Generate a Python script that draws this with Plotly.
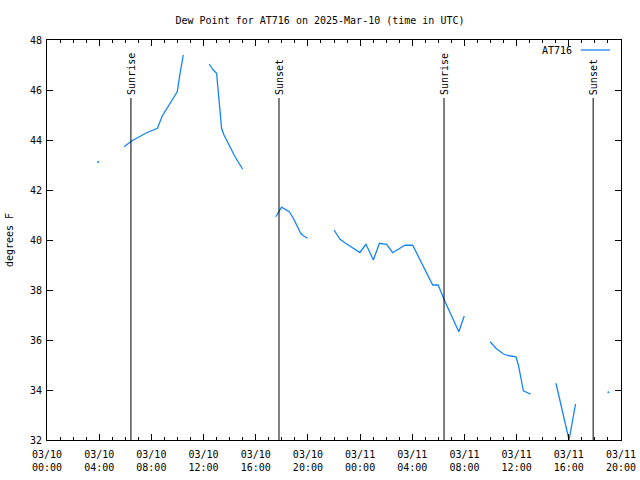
import plotly.graph_objects as go

# Dew point observations (None = gap in data)
times = [
    "2025-03-10 05:55", "2025-03-10 06:29", "2025-03-10 07:38", "2025-03-10 08:28",
    "2025-03-10 08:50", "2025-03-10 09:49", "2025-03-10 09:59", "2025-03-10 10:12",
    "2025-03-10 10:27", None,
    "2025-03-10 12:26", "2025-03-10 12:45", "2025-03-10 13:00", "2025-03-10 13:08",
    "2025-03-10 13:23", "2025-03-10 13:34", "2025-03-10 14:25", "2025-03-10 15:00", None,
    "2025-03-10 17:32", "2025-03-10 17:49", "2025-03-10 17:59", "2025-03-10 18:34",
    "2025-03-10 18:53", "2025-03-10 19:27", "2025-03-10 19:39", "2025-03-10 19:59", None,
    "2025-03-10 22:00", "2025-03-10 22:28", "2025-03-10 22:50", "2025-03-10 23:59",
    "2025-03-11 00:27", "2025-03-11 01:01", "2025-03-11 01:29", "2025-03-11 02:02",
    "2025-03-11 02:30", "2025-03-11 03:04", "2025-03-11 03:26", "2025-03-11 04:02",
    "2025-03-11 05:34", "2025-03-11 05:59", "2025-03-11 06:31", "2025-03-11 07:34",
    "2025-03-11 07:59", None,
    "2025-03-11 09:58", "2025-03-11 10:25", "2025-03-11 10:59", "2025-03-11 11:26",
    "2025-03-11 11:57", "2025-03-11 12:08", "2025-03-11 12:31", "2025-03-11 12:47",
    "2025-03-11 13:05", None,
    "2025-03-11 15:01", "2025-03-11 16:01", "2025-03-11 16:31",
]
dewpoint = [
    43.73, 43.96, 44.29, 44.47, 44.96, 45.80, 45.93, 46.67, 47.40, None,
    47.04, 46.80, 46.67, 46.00, 44.47, 44.20, 43.33, 42.83, None,
    40.93, 41.20, 41.31, 41.13, 40.87, 40.27, 40.17, 40.07, None,
    40.40, 40.03, 39.89, 39.50, 39.83, 39.20, 39.87, 39.83, 39.49, 39.67,
    39.79, 39.79, 38.20, 38.20, 37.53, 36.33, 36.96, None,
    35.93, 35.67, 35.44, 35.37, 35.33, 35.00, 33.97, 33.89, 33.83, None,
    34.27, 32.00, 33.44,
]
# Isolated single observations
single_times = ["2025-03-10 03:55", "2025-03-11 19:02"]
single_values = [43.12, 33.91]

sun_times = ["2025-03-10 06:26", "2025-03-10 17:47", "2025-03-11 06:26", "2025-03-11 17:52"]
sun_labels = ["Sunrise", "Sunset", "Sunrise", "Sunset"]
sun_line_top = 45.68

color = "#1584f5"
font = dict(family="DejaVu Sans Mono", size=10, color="black")

fig = go.Figure()
fig.add_trace(go.Scatter(x=times, y=dewpoint, mode="lines", connectgaps=False,
                         line=dict(color=color, width=1.3), showlegend=False))
fig.add_trace(go.Scatter(x=single_times, y=single_values, mode="markers",
                         marker=dict(color=color, size=2), showlegend=False))

for t, lab in zip(sun_times, sun_labels):
    fig.add_shape(type="line", x0=t, x1=t, y0=32, y1=sun_line_top, xref="x", yref="y",
                  line=dict(color="black", width=1))
    fig.add_annotation(x=t, y=sun_line_top, xref="x", yref="y", text=lab, textangle=-90,
                       showarrow=False, xanchor="center", yanchor="bottom", yshift=1,
                       font=font)

# gnuplot-style key: text then line sample
fig.add_annotation(x=0.918, y=0.975, xref="paper", yref="paper", text="AT716",
                   showarrow=False, xanchor="right", yanchor="middle", font=font)
fig.add_shape(type="line", xref="paper", yref="paper", x0=0.930, x1=0.981, y0=0.975, y1=0.975,
              line=dict(color=color, width=1.3))

axis_common = dict(showline=True, linecolor="black", linewidth=1, mirror="allticks",
                   ticks="inside", tickcolor="black", showgrid=False, zeroline=False,
                   tickfont=font, automargin=False)

fig.update_xaxes(type="date", range=["2025-03-10 00:00", "2025-03-11 20:00"],
                 dtick=4 * 3600000, tick0="2025-03-10 00:00", tickformat="%m/%d<br>%H:%M",
                 ticklen=6, ticklabelstandoff=5,
                 minor=dict(dtick=3600000, ticks="inside", ticklen=3, tickcolor="black"),
                 **axis_common)
fig.update_yaxes(range=[32, 48], dtick=2, ticklen=6, ticklabelstandoff=2,
                 title=dict(text="degrees F", font=font, standoff=14), **axis_common)

fig.update_layout(
    width=640, height=480,
    margin=dict(l=47, r=19, t=40, b=40),
    paper_bgcolor="white", plot_bgcolor="white",
    title=dict(text="Dew Point for AT716 on 2025-Mar-10 (time in UTC)", x=0.5, xanchor="center",
               y=0.957, yanchor="middle", font=font),
    font=font,
)

fig.write_html("out.html")
